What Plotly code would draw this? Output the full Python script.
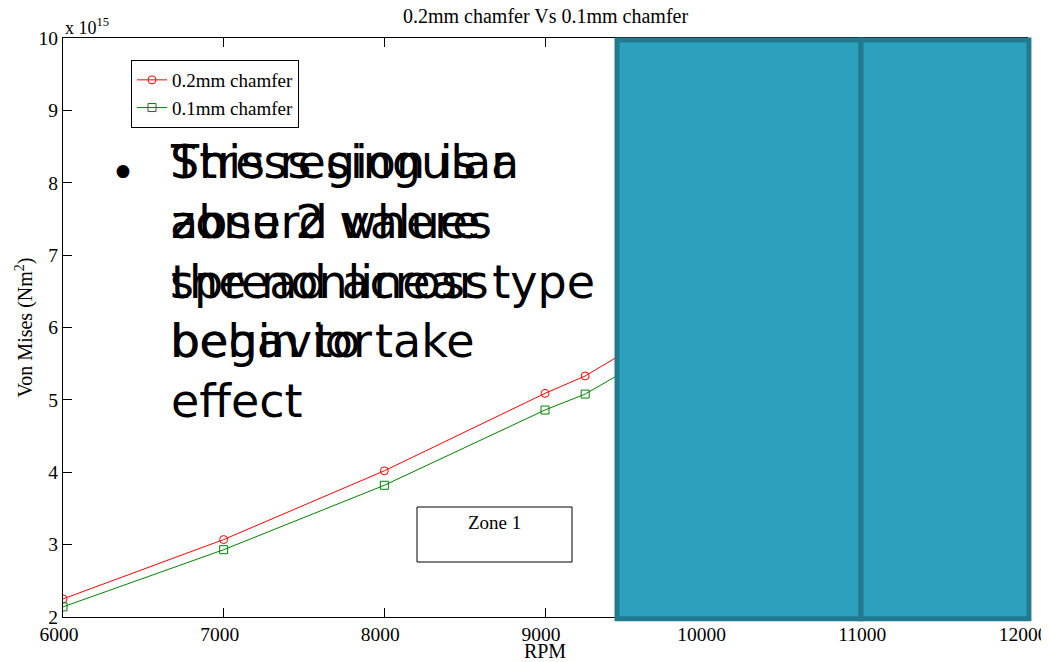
import plotly.graph_objects as go

rpm = [6000, 7000, 8000, 9000, 9250, 9500]
stress_02 = [2.25, 3.07, 4.02, 5.09, 5.33, 5.66]
stress_01 = [2.14, 2.93, 3.82, 4.86, 5.08, 5.40]
x_ticks = [6000, 7000, 8000, 9000, 10000, 11000, 12000]
y_ticks = [2, 3, 4, 5, 6, 7, 8, 9, 10]

serif = "Liberation Serif, Times New Roman, serif"

fig = go.Figure()
fig.add_trace(go.Scatter(x=rpm, y=stress_02, mode="lines+markers", name="0.2mm chamfer",
                         line=dict(color="#ff0000", width=1),
                         marker=dict(symbol="circle-open", size=8, color="#ff0000", line=dict(width=1))))
fig.add_trace(go.Scatter(x=rpm, y=stress_01, mode="lines+markers", name="0.1mm chamfer",
                         line=dict(color="#008000", width=1),
                         marker=dict(symbol="square-open", size=8, color="#008000", line=dict(width=1))))

axis_common = dict(showgrid=False, zeroline=False, showline=True, linecolor="black", linewidth=1,
                   mirror="ticks", ticks="inside", ticklen=9, tickcolor="black", automargin=False,
                   ticklabeloverflow="allow",
                   tickfont=dict(family=serif, size=19.5, color="black"))

fig.update_xaxes(range=[6000, 12000], tickvals=x_ticks, ticktext=[str(v) for v in x_ticks],
                 ticklabelshift=-4,
                 title=dict(text="RPM", font=dict(family=serif, size=20, color="black"), standoff=0),
                 **axis_common)
fig.update_yaxes(range=[2, 10], tickvals=y_ticks, ticktext=[str(v) for v in y_ticks],
                 title=dict(text="Von Mises (Nm<sup>2</sup>)", font=dict(family=serif, size=20, color="black"), standoff=0),
                 **axis_common)

fill = "#2ca1be"
edge = "#217a8f"
fig.add_shape(type="rect", xref="paper", yref="paper", x0=0.5747, x1=0.8278, y0=-0.003, y1=0.9965,
              fillcolor=fill, line=dict(color=edge, width=5), layer="above")
fig.add_shape(type="rect", xref="paper", yref="paper", x0=0.8278, x1=1.002, y0=-0.003, y1=0.9965,
              fillcolor=fill, line=dict(color=edge, width=5), layer="above")

# Zone 1 box
fig.add_shape(type="rect", xref="paper", yref="paper", x0=(417-63)/964, x1=(572-63)/964,
              y0=(617-562)/579, y1=(617-507)/579, line=dict(color="black", width=1),
              fillcolor="rgba(0,0,0,0)", layer="above")
fig.add_annotation(text="Zone 1", xref="paper", yref="paper", x=(494-63)/964, y=(617-522)/579,
                   xanchor="center", yanchor="middle",
                   showarrow=False, font=dict(family=serif, size=19, color="black"))

fig.add_annotation(text="0.2mm chamfer Vs 0.1mm chamfer", xref="paper", yref="paper", x=0.5, y=1,
                   xanchor="center", yanchor="middle",
                   yshift=22, showarrow=False, font=dict(family=serif, size=20, color="black"))
fig.add_annotation(text="x 10<sup>15</sup>", xref="paper", yref="paper", x=0, y=1, xanchor="left",
                   yanchor="bottom", yshift=-2, showarrow=False, font=dict(family=serif, size=18, color="black"))

# overlapping slide text
sans = "DejaVu Sans, sans-serif"
fig.add_annotation(text="•", xref="paper", yref="paper", x=(123-63)/964, y=(617-170)/579,
                   xanchor="center", yanchor="middle", yshift=-2,
                   showarrow=False, font=dict(family=sans, size=44, color="black"))
txtA = "This region is a<br>zone 2 where<br>the nonlinear type<br>begin to take<br>effect"
txtB = "Stress singular<br>absurd values<br>spread across<br>behavior"
for t in (txtA, txtB):
    fig.add_annotation(text=t, xref="paper", yref="paper", x=(168-63)/964, y=(617-133)/579,
                       xanchor="left", yanchor="top", align="left", showarrow=False,
                       font=dict(family=sans, size=46, color="black"))

fig.update_layout(width=1041, height=654, margin=dict(l=55, r=22, t=30, b=45),
                  plot_bgcolor="white", paper_bgcolor="white",
                  legend=dict(x=(131-63)/964, y=(617-60)/579, xanchor="left", yanchor="top",
                              bordercolor="black", borderwidth=1, bgcolor="white",
                              font=dict(family=serif, size=19, color="black"),
                              tracegroupgap=0, itemwidth=30))
fig.write_html("out.html")
